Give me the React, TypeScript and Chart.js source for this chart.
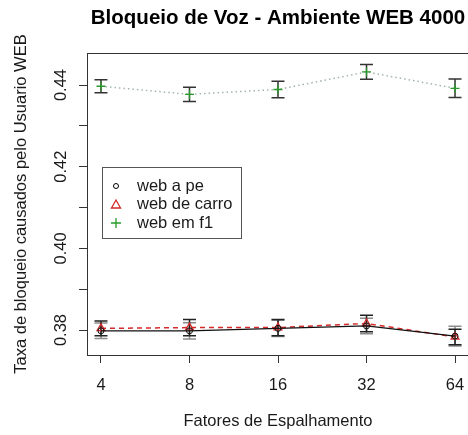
import React, { useEffect, useRef } from "react";
import { Chart, registerables } from "chart.js";

Chart.register(...registerables);

// ---- data ----
const categories = ["4", "8", "16", "32", "64"];
const seriesNames = ["web a pe", "web de carro", "web em f1"];
const webAPe = [0.3798, 0.3798, 0.3804, 0.381, 0.3785];
const webAPeErr = [0.0019, 0.002, 0.002, 0.0019, 0.0024];
const webDeCarro = [0.3804, 0.3806, 0.3806, 0.3816, 0.3783];
const webDeCarroErr = [0.0018, 0.002, 0.002, 0.002, 0.0019];
const webEmF1 = [0.4397, 0.4377, 0.4389, 0.4432, 0.4392];
const webEmF1Err = [0.0016, 0.00175, 0.002, 0.0018, 0.00225];
const yTicks = [0.38, 0.39, 0.4, 0.41, 0.42, 0.43, 0.44];
const yTickLabels = ["0.38", "", "0.40", "", "0.42", "", "0.44"];

const titleText = "Bloqueio de Voz - Ambiente WEB 4000";
const xTitle = "Fatores de Espalhamento";
const yTitle = "Taxa de bloqueio causados pelo Usuario WEB";

const FONT = "'Liberation Sans', Arial, Helvetica, sans-serif";
const TEXT = "#1a1a1a";

const toPoints = (vals: number[]) => vals.map((v, i) => ({ x: i, y: v }));

const errorSets = [
  { vals: webAPe, errs: webAPeErr, color: "#8c8c8c" },
  { vals: webDeCarro, errs: webDeCarroErr, color: "#222222" },
  { vals: webEmF1, errs: webEmF1Err, color: "#333333" },
];

const customPlugin = {
  id: "rstyle",
  beforeDatasetsDraw(chart: any) {
    const ctx = chart.ctx;
    const xs = chart.scales.x;
    const ys = chart.scales.y;
    ctx.save();
    ctx.lineWidth = 1.5;
    for (const set of errorSets) {
      ctx.strokeStyle = set.color;
      set.vals.forEach((v, i) => {
        const x = xs.getPixelForValue(i);
        const yt = ys.getPixelForValue(v + set.errs[i]);
        const yb = ys.getPixelForValue(v - set.errs[i]);
        ctx.beginPath();
        ctx.moveTo(x, yt);
        ctx.lineTo(x, yb);
        ctx.moveTo(x - 6.5, yt);
        ctx.lineTo(x + 6.5, yt);
        ctx.moveTo(x - 6.5, yb);
        ctx.lineTo(x + 6.5, yb);
        ctx.stroke();
      });
    }
    ctx.restore();
  },
  afterDraw(chart: any) {
    const ctx = chart.ctx;
    const ca = chart.chartArea;
    const ys = chart.scales.y;
    ctx.save();
    // box top/right
    ctx.strokeStyle = "#333";
    ctx.lineWidth = 1;
    ctx.beginPath();
    ctx.moveTo(ca.left, ca.top + 0.5);
    ctx.lineTo(ca.right, ca.top + 0.5);
    ctx.lineTo(ca.right, ca.bottom);
    ctx.stroke();
    // rotated y tick labels
    ctx.fillStyle = TEXT;
    ctx.font = `16.5px ${FONT}`;
    ctx.textAlign = "center";
    ctx.textBaseline = "middle";
    yTicks.forEach((t, i) => {
      const lbl = yTickLabels[i];
      if (!lbl) return;
      const y = ys.getPixelForValue(t);
      ctx.save();
      ctx.translate(61.5, y);
      ctx.rotate(-Math.PI / 2);
      ctx.fillText(lbl, 0, 0);
      ctx.restore();
    });
    // legend
    const bx = 102.5, by = 167.5, bw = 139, bh = 71;
    ctx.fillStyle = "#fff";
    ctx.fillRect(bx, by, bw, bh);
    ctx.strokeStyle = "#555";
    ctx.lineWidth = 1;
    ctx.strokeRect(bx, by, bw, bh);
    const rows = [186, 204.5, 223];
    const mx = 116;
    // circle
    ctx.strokeStyle = "#000";
    ctx.lineWidth = 1;
    ctx.beginPath();
    ctx.arc(mx, rows[0], 2.5, 0, Math.PI * 2);
    ctx.stroke();
    // triangle
    ctx.strokeStyle = "#d42a2a";
    ctx.lineWidth = 1.3;
    ctx.beginPath();
    ctx.moveTo(mx, rows[1] - 4.5);
    ctx.lineTo(mx + 4.5, rows[1] + 3.5);
    ctx.lineTo(mx - 4.5, rows[1] + 3.5);
    ctx.closePath();
    ctx.stroke();
    // plus
    ctx.strokeStyle = "#2a9a2a";
    ctx.lineWidth = 1.3;
    ctx.beginPath();
    ctx.moveTo(mx - 5, rows[2]);
    ctx.lineTo(mx + 5, rows[2]);
    ctx.moveTo(mx, rows[2] - 5);
    ctx.lineTo(mx, rows[2] + 5);
    ctx.stroke();
    ctx.fillStyle = TEXT;
    ctx.font = `16.5px ${FONT}`;
    ctx.textAlign = "left";
    ctx.textBaseline = "middle";
    seriesNames.forEach((n, i) => ctx.fillText(n, 137, rows[i]));
    ctx.restore();
  },
};

export default function App() {
  const ref = useRef<HTMLCanvasElement>(null);
  useEffect(() => {
    const chart = new Chart(ref.current as HTMLCanvasElement, {
      type: "line",
      data: {
        datasets: [
          {
            label: seriesNames[0],
            data: toPoints(webAPe),
            borderColor: "#111",
            borderWidth: 1.2,
            pointStyle: "circle",
            pointRadius: 3,
            pointBorderColor: "#111",
            pointBackgroundColor: "rgba(0,0,0,0)",
            pointBorderWidth: 1,
            tension: 0,
          },
          {
            label: seriesNames[1],
            data: toPoints(webDeCarro),
            borderColor: "#d42a2a",
            borderWidth: 1.5,
            borderDash: [5, 4],
            pointStyle: "triangle",
            pointRadius: 4.5,
            pointBorderColor: "#d42a2a",
            pointBackgroundColor: "rgba(0,0,0,0)",
            pointBorderWidth: 1.3,
            tension: 0,
          },
          {
            label: seriesNames[2],
            data: toPoints(webEmF1),
            borderColor: "#a2b6a8",
            borderWidth: 1.5,
            borderDash: [1.5, 3],
            pointStyle: "cross",
            pointRadius: 4.5,
            pointBorderColor: "#2a9a2a",
            pointBorderWidth: 1.3,
            tension: 0,
          },
        ],
      },
      options: {
        animation: false,
        responsive: false,
        devicePixelRatio: 1,
        layout: { padding: { left: 0, right: 11, top: 0, bottom: 0 } },
        plugins: {
          legend: { display: false },
          tooltip: { enabled: false },
          title: {
            display: true,
            text: titleText,
            fullSize: false,
            color: "#000",
            font: { family: FONT, size: 20.5, weight: "bold", lineHeight: 1.2 },
            padding: { top: 6, bottom: 22.4 },
          },
        },
        scales: {
          x: {
            type: "linear",
            min: -0.158,
            max: 4.158,
            afterBuildTicks: (scale: any) => {
              scale.ticks = categories.map((_, i) => ({ value: i }));
            },
            afterFit: (scale: any) => {
              scale.height = 80;
            },
            ticks: {
              autoSkip: false,
              maxRotation: 0,
              padding: 13,
              color: TEXT,
              font: { family: FONT, size: 16.5, lineHeight: 1.2 },
              callback: (v: any) => categories[Math.round(Number(v))] ?? "",
            },
            grid: {
              drawOnChartArea: false,
              drawTicks: true,
              tickLength: 8,
              color: "#333",
              lineWidth: 1,
            },
            border: { display: true, color: "#333", width: 1 },
            title: {
              display: true,
              text: xTitle,
              color: TEXT,
              font: { family: FONT, size: 16.5, lineHeight: 1.2 },
              padding: { top: 0, bottom: 4 },
            },
          },
          y: {
            type: "linear",
            min: 0.37388,
            max: 0.44784,
            afterBuildTicks: (scale: any) => {
              scale.ticks = yTicks.map((v) => ({ value: v }));
            },
            afterFit: (scale: any) => {
              scale.width = 87;
            },
            ticks: { display: false },
            grid: {
              drawOnChartArea: false,
              drawTicks: true,
              tickLength: 8,
              color: "#333",
              lineWidth: 1,
            },
            border: { display: true, color: "#333", width: 1 },
            title: {
              display: true,
              text: yTitle,
              color: TEXT,
              font: { family: FONT, size: 16.5, lineHeight: 1.2 },
              padding: { top: 12, bottom: 0 },
            },
          },
        },
      },
      plugins: [customPlugin],
    } as any);
    return () => chart.destroy();
  }, []);
  return (
    <div
      style={{
        position: "fixed",
        left: 0,
        top: 0,
        width: 468,
        height: 435,
        overflow: "hidden",
        background: "#fff",
      }}
    >
      <canvas
        ref={ref}
        width={480}
        height={435}
        style={{ display: "block", width: 480, height: 435 }}
      />
    </div>
  );
}
